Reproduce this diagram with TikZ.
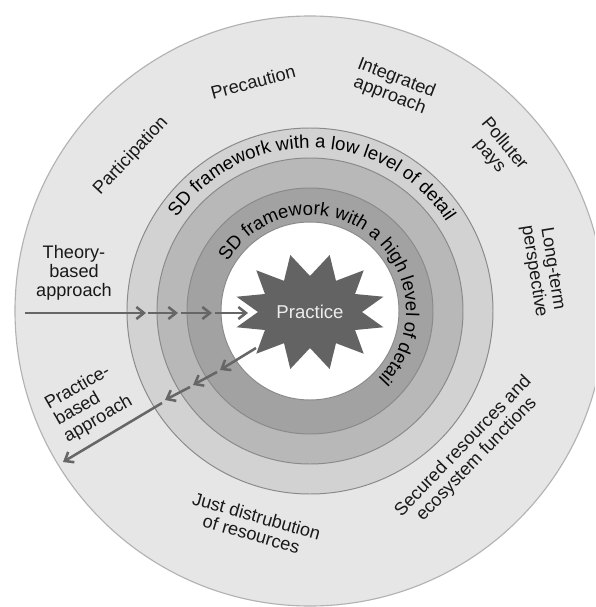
\documentclass[tikz,border=0pt]{standalone}
\usepackage{fontspec}
\setmainfont{Liberation Sans}
\usetikzlibrary{arrows.meta,decorations.text}

\definecolor{outerfill}{HTML}{E6E6E6}
\definecolor{lowfill}{HTML}{D2D2D2}
\definecolor{midfill}{HTML}{B8B8B8}
\definecolor{highfill}{HTML}{A2A2A2}
\definecolor{ringline}{HTML}{8A8A8A}
\definecolor{starfill}{HTML}{636363}
\definecolor{flowgray}{HTML}{666666}

\newcommand{\lblfont}{\fontsize{12.9}{13.3}\selectfont}
\newcommand{\arcfont}{\fontsize{13.2}{13.2}\selectfont}

\begin{document}
\begin{tikzpicture}[x=0.025cm, y=0.025cm,
	lbl/.style={font=\lblfont, align=center, inner sep=0pt, text=black!90},
	ring/.style={draw=ringline, line width=0.7pt},
	flow/.style={draw=flowgray, line width=1.8pt, -{Straight Barb[length=1.9mm, width=3mm]}}]
	\useasboundingbox (-310,-296) rectangle (285,311);
	\fill[white] (-310,-296) rectangle (285,311);
	\clip (-310,-296) rectangle (285,311);

	% rings
	\filldraw[fill=outerfill, draw=black!30, line width=0.8pt] (0,0) circle (295);
	\filldraw[ring, fill=lowfill] (0,0) circle (183);
	\filldraw[ring, fill=midfill] (0,0) circle (153);
	\filldraw[ring, fill=highfill] (0,0) circle (123);
	\filldraw[ring, fill=white] (0,0) circle (89);

	% ring texts
	\path[decorate, decoration={text along path, text align=center,
		text={|\arcfont|SD framework with a low level of detail}}]
		(180:163) arc[start angle=180, end angle=-2, radius=163];
	\path[decorate, decoration={text along path, text align=center,
		text={|\arcfont|SD framework with a high level of detail}}]
		(202:96) arc[start angle=202, end angle=-98, radius=96];

	% practice
	\fill[starfill, shift={(0,-1)}] (0:52 and 36)
		\foreach \a in {15,45,...,345} {-- (\a:76 and 59) -- ({\a+15}:52 and 36)} -- cycle;
	\node[font=\arcfont, text=white!93!black] (practice) at (0,-1) {Practice};

	% principles
	\node[lbl, rotate=47] (participation) at (-179,155) {Participation};
	\node[lbl, rotate=15] (precaution) at (-57,229) {Precaution};
	\node[lbl, rotate=-21] (integrated) at (83,224) {Integrated\\approach};
	\node[lbl, rotate=-50] (polluter) at (187,161) {Polluter\\pays};
	\node[lbl, rotate=-81] (longterm) at (233,41) {Long-term\\perspective};
	\node[lbl, rotate=46] (secured) at (160,-142) {Secured resources and\\ecosystem functions};
	\node[lbl, rotate=-16] (just) at (-56,-214) {Just distrubution\\of resources};
	\node[lbl] (theory) at (-236,38) {Theory-\\based\\approach};
	\node[lbl, rotate=30, align=left] (practicebased) at (-221,-92) {Practice-\\based\\approach};

	% arrows
	\coordinate (t0) at (-285,-2);
	\coordinate (t1) at (-164,-2);
	\coordinate (t2) at (-162,-2);
	\coordinate (t3) at (-132,-2);
	\coordinate (t4) at (-129,-2);
	\coordinate (t5) at (-98,-2);
	\coordinate (t6) at (-95,-2);
	\coordinate (t7) at (-62,-2);
	\draw[flow] (t0) -- (t1);
	\draw[flow] (t2) -- (t3);
	\draw[flow] (t4) -- (t5);
	\draw[flow] (t6) -- (t7);

	\coordinate (p0) at (-54,-37);
	\coordinate (p1) at (-90,-59);
	\coordinate (p2) at (-93,-61);
	\coordinate (p3) at (-117,-74);
	\coordinate (p4) at (-120,-76);
	\coordinate (p5) at (-145,-89);
	\coordinate (p6) at (-148,-92);
	\coordinate (p7) at (-247,-151);
	\draw[flow] (p0) -- (p1);
	\draw[flow] (p2) -- (p3);
	\draw[flow] (p4) -- (p5);
	\draw[flow] (p6) -- (p7);
\end{tikzpicture}
\end{document}
